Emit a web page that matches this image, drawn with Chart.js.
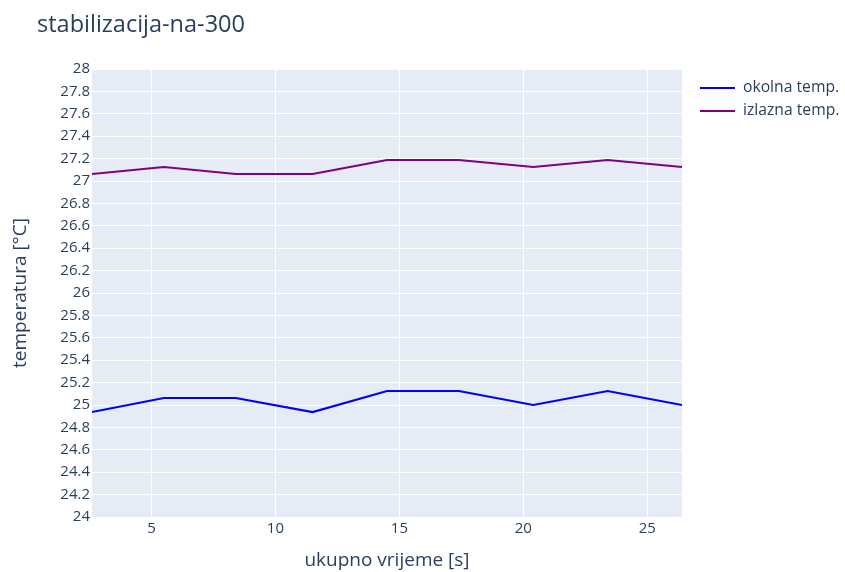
<!DOCTYPE html>
<html>
<head>
<meta charset="utf-8">
<script src="https://cdn.jsdelivr.net/npm/chart.js@4.4.1/dist/chart.umd.min.js"></script>
<style>
  html, body { margin: 0; padding: 0; background: #ffffff; }
  #wrap { position: relative; width: 845px; height: 572px; }
</style>
</head>
<body>
<div id="wrap"><canvas id="c" width="845" height="572"></canvas></div>
<script>
// ---- data ----
const chartTitle = 'stabilizacija-na-300';
const xTitle = 'ukupno vrijeme [s]';
const yTitle = 'temperatura [°C]';
const timeSeconds = [2.6, 5.5, 8.4, 11.5, 14.5, 17.4, 20.4, 23.4, 26.4];
const okolnaTemp = [24.9375, 25.0625, 25.0625, 24.9375, 25.125, 25.125, 25.0, 25.125, 25.0];
const izlaznaTemp = [27.0625, 27.125, 27.0625, 27.0625, 27.1875, 27.1875, 27.125, 27.1875, 27.125];
const seriesNames = ['okolna temp.', 'izlazna temp.'];
const xTickValues = [5, 10, 15, 20, 25];
const yMin = 24, yMax = 28, yStep = 0.2;

const FONT = '"Open Sans", "Noto Sans", sans-serif';
const TEXT = '#2a3f5f';

const bgPlugin = {
  id: 'plotBg',
  beforeDraw(chart) {
    const {ctx, chartArea: a} = chart;
    ctx.save();
    ctx.fillStyle = '#E5ECF6';
    ctx.fillRect(a.left, a.top, a.right - a.left, a.bottom - a.top);
    ctx.restore();
  }
};

const decorPlugin = {
  id: 'decor',
  afterDraw(chart) {
    const ctx = chart.ctx;
    ctx.save();
    // title
    ctx.fillStyle = TEXT;
    ctx.font = '23.5px ' + FONT;
    ctx.textBaseline = 'middle';
    ctx.textAlign = 'left';
    ctx.fillText(chartTitle, 37, 25);
    // legend
    ctx.font = '15.7px ' + FONT;
    chart.data.datasets.forEach((ds, i) => {
      const y = 88 + i * 23;
      ctx.strokeStyle = ds.borderColor;
      ctx.lineWidth = 2.2;
      ctx.beginPath();
      ctx.moveTo(700, y);
      ctx.lineTo(735, y);
      ctx.stroke();
      ctx.fillStyle = TEXT;
      ctx.fillText(ds.label, 743, y);
    });
    ctx.restore();
  }
};

new Chart(document.getElementById('c'), {
  type: 'line',
  data: {
    datasets: [
      { label: seriesNames[0], data: timeSeconds.map((x, i) => ({x, y: okolnaTemp[i]})),
        borderColor: '#0000ff', borderWidth: 2.2, pointRadius: 0, tension: 0, fill: false },
      { label: seriesNames[1], data: timeSeconds.map((x, i) => ({x, y: izlaznaTemp[i]})),
        borderColor: '#800080', borderWidth: 2.2, pointRadius: 0, tension: 0, fill: false }
    ]
  },
  options: {
    responsive: false,
    animation: false,
    devicePixelRatio: 1,
    layout: { padding: { left: 0, top: 69, right: 163, bottom: 0 } },
    plugins: { legend: { display: false }, title: { display: false }, tooltip: { enabled: false } },
    scales: {
      x: {
        type: 'linear',
        min: timeSeconds[0],
        max: timeSeconds[timeSeconds.length - 1],
        afterBuildTicks: s => { s.ticks = xTickValues.map(v => ({value: v})); },
        afterFit: s => { s.height = 55; },
        grid: { color: '#ffffff', lineWidth: 1, drawTicks: false },
        border: { display: false },
        ticks: { color: TEXT, font: { family: FONT, size: 15 }, padding: 3, maxRotation: 0,
                 callback: v => String(v) },
        title: { display: true, text: xTitle, color: TEXT, font: { family: FONT, size: 19 },
                 padding: { top: -2, bottom: 0 } }
      },
      y: {
        type: 'linear',
        min: yMin, max: yMax,
        afterBuildTicks: s => {
          const t = [];
          for (let k = 0; k <= Math.round((yMax - yMin) / yStep); k++) t.push({value: +(yMin + k * yStep).toFixed(1)});
          s.ticks = t;
        },
        afterFit: s => { s.width = 92; },
        grid: { color: '#ffffff', lineWidth: 1, drawTicks: false },
        border: { display: false },
        ticks: { color: TEXT, font: { family: FONT, size: 15 }, padding: 2,
                 callback: v => String(Math.round(v * 10) / 10) },
        title: { display: true, text: yTitle, color: TEXT, font: { family: FONT, size: 19 },
                 padding: { top: 9, bottom: 0 } }
      }
    }
  },
  plugins: [bgPlugin, decorPlugin]
});
</script>
</body>
</html>
